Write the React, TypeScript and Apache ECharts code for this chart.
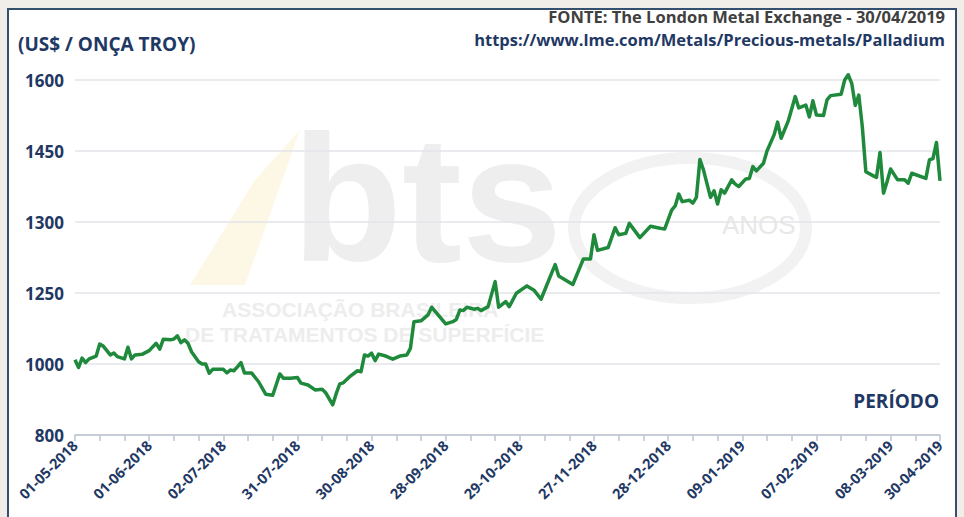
import React, { useEffect, useRef } from "react";
import * as echarts from "echarts";

// Trading-day index (7 trading days per axis tick) and palladium price (US$/troy oz)
const days = [
  0, 1, 2, 3, 4, 6, 7, 8, 10, 11, 12, 14, 15, 16, 17, 19, 21, 23, 24, 25, 27, 28, 29, 30, 31, 32, 33, 35, 36, 37, 38, 39,
  42, 43, 44, 45, 46, 47, 48, 50, 52, 54, 56, 58, 59, 61, 63, 64, 66, 68, 70, 71, 73, 74, 75, 76, 78, 80, 81, 82, 83, 84,
  85, 86, 88, 90, 92, 94, 95, 96, 98, 100, 101, 102, 105, 107, 108, 109, 110, 111, 113, 114, 115, 117, 119, 120, 122, 123,
  125, 128, 130, 132, 135, 136, 137, 141, 144, 146, 147, 148, 151, 153, 154, 156, 157, 160, 163, 165, 167, 169, 170, 171,
  172, 174, 175, 176, 177, 178, 180, 181, 182, 183, 184, 186, 187, 188, 190, 191, 192, 193, 195, 196, 198, 199, 200, 202,
  204, 205, 207, 208, 209, 210, 212, 213, 214, 217, 218, 219, 220, 221, 222, 223, 224, 226, 227, 228, 229, 230, 231, 233,
  235, 236, 237, 241, 242, 243, 244, 245,
];
const prices = [
  1015, 990, 1021, 1005, 1018, 1028, 1070, 1063, 1032, 1039, 1026, 1018, 1059, 1018, 1032, 1034, 1047, 1073, 1052, 1087,
  1085, 1088, 1099, 1075, 1085, 1073, 1043, 1008, 1000, 1000, 974, 985, 985, 975, 983, 981, 992, 1005, 975, 975, 950, 915,
  912, 972, 960, 960, 962, 946, 941, 927, 929, 919, 885, 917, 944, 947, 966, 981, 978, 1032, 1028, 1038, 1012, 1035, 1028,
  1017, 1028, 1032, 1055, 1149, 1152, 1173, 1200, 1185, 1141, 1149, 1157, 1190, 1188, 1200, 1193, 1196, 1188, 1202, 1258,
  1200, 1220, 1202, 1249, 1255, 1252, 1228, 1264, 1270, 1262, 1256, 1274, 1274, 1291, 1280, 1282, 1296, 1291, 1292, 1299,
  1289, 1297, 1296, 1295, 1325, 1334, 1359, 1343, 1346, 1340, 1352, 1432, 1410, 1352, 1366, 1338, 1368, 1361, 1389, 1380,
  1375, 1391, 1392, 1417, 1408, 1424, 1450, 1484, 1511, 1477, 1513, 1565, 1541, 1547, 1522, 1556, 1526, 1525, 1558, 1567,
  1570, 1600, 1611, 1593, 1546, 1568, 1501, 1406, 1398, 1394, 1447, 1361, 1385, 1412, 1389, 1389, 1382, 1403, 1392, 1431,
  1434, 1468, 1387,
];

// Axis ticks as printed on the original chart (evenly spaced, non-linear values)
const yTickValues = [800, 1000, 1250, 1300, 1450, 1600];
const yTickLabels = ["800", "1000", "1250", "1300", "1450", "1600"];

const xLabelDays = [0, 21, 42, 63, 84, 105, 126, 147, 168, 189, 210, 231, 245];
const xLabels = [
  "01-05-2018", "01-06-2018", "02-07-2018", "31-07-2018", "30-08-2018", "28-09-2018", "29-10-2018",
  "27-11-2018", "28-12-2018", "09-01-2019", "07-02-2019", "08-03-2019", "30-04-2019",
];

const NAVY = "#1f3864";
const FONT = "'Open Sans', sans-serif";

function toAxisPos(v: number): number {
  for (let k = 0; k < yTickValues.length - 1; k++) {
    const a = yTickValues[k];
    const b = yTickValues[k + 1];
    if (v <= b || k === yTickValues.length - 2) {
      return k + (v - a) / (b - a);
    }
  }
  return 0;
}

export default function App() {
  const ref = useRef<HTMLDivElement>(null);
  useEffect(() => {
    if (!ref.current) return;
    const chart = echarts.init(ref.current, null, { renderer: "svg" });
    const labelMap: Record<number, string> = {};
    xLabelDays.forEach((d, i) => (labelMap[d] = xLabels[i]));
    const data = days.map((d, i) => [d, toAxisPos(prices[i])]);

    chart.setOption({
      animation: false,
      backgroundColor: "#f1eee9",
      grid: { left: 75, right: 24, top: 80, bottom: 82, containLabel: false },
      xAxis: {
        type: "value",
        min: 0,
        max: 245,
        interval: 7,
        axisLine: { show: true, lineStyle: { color: "#bcc4d0", width: 1.5 } },
        axisTick: { show: true, length: 6, lineStyle: { color: "#bcc4d0", width: 1.5 } },
        splitLine: { show: false },
        axisLabel: {
          rotate: 45,
          margin: 8,
          showMinLabel: true,
          showMaxLabel: true,
          color: NAVY,
          fontFamily: FONT,
          fontWeight: "bold",
          fontSize: 14.5,
          formatter: (v: number) => labelMap[v] ?? "",
        },
      },
      yAxis: {
        type: "value",
        min: 0,
        max: 5,
        interval: 1,
        axisLine: { show: false },
        axisTick: { show: false },
        splitLine: { show: true, lineStyle: { color: "#e3e5e8", width: 1.5 } },
        axisLabel: {
          margin: 11,
          color: NAVY,
          fontFamily: FONT,
          fontWeight: "bold",
          fontSize: 17,
          formatter: (v: number) => yTickLabels[Math.round(v)] ?? "",
        },
      },
      graphic: [
        { type: "rect", z: -10, shape: { x: 8, y: 9, width: 948, height: 520 }, style: { fill: "#ffffff", stroke: "#34506e", lineWidth: 2 } },
        // watermark
        { type: "polygon", z: -9, shape: { points: [[190, 285], [255, 180], [300, 130], [245, 285]] }, style: { fill: "#fdf7e6" } },
        { type: "text", z: -9, left: 292, top: 108, style: { text: "bts", font: "bold 180px 'Liberation Sans', sans-serif", fill: "#eeeeee" } },
        { type: "text", z: -9, left: 222, top: 299, style: { text: "ASSOCIAÇÃO BRASILEIRA", font: "bold 21px 'Liberation Sans', sans-serif", fill: "#ededed" } },
        { type: "text", z: -9, left: 185, top: 324, style: { text: "DE TRATAMENTOS DE SUPERFÍCIE", font: "bold 21px 'Liberation Sans', sans-serif", fill: "#ededed" } },
        { type: "ellipse", z: -9, shape: { cx: 690, cy: 228, rx: 116, ry: 70 }, style: { fill: "none", stroke: "#f2f2f2", lineWidth: 12 } },
        { type: "text", z: -9, left: 722, top: 212, style: { text: "ANOS", font: "26px 'Liberation Sans', sans-serif", fill: "#e8e8e8" } },
        // titles
        { type: "text", left: 18, top: 34, style: { text: "(US$ / ONÇA TROY)", font: `bold 19px ${FONT}`, fill: NAVY } },
        { type: "text", right: 19, top: 8, style: { text: "FONTE: The London Metal Exchange - 30/04/2019", font: `bold 16.5px ${FONT}`, fill: "#404040", align: "right" } },
        { type: "text", right: 19, top: 31, style: { text: "https://www.lme.com/Metals/Precious-metals/Palladium", font: `bold 16.5px ${FONT}`, fill: NAVY, align: "right" } },
        { type: "text", right: 25, top: 391, style: { text: "PERÍODO", font: `bold 19px ${FONT}`, fill: NAVY, align: "right" } },
      ],
      series: [
        {
          type: "line",
          data,
          clip: false,
          showSymbol: false,
          symbol: "none",
          lineStyle: { color: "#1f8a3c", width: 3.5, join: "round" },
          itemStyle: { color: "#1f8a3c" },
          z: 5,
        },
      ],
    });
    return () => chart.dispose();
  }, []);
  return <div ref={ref} style={{ position: "fixed", left: 0, top: 0, width: 964, height: 517 }} />;
}
